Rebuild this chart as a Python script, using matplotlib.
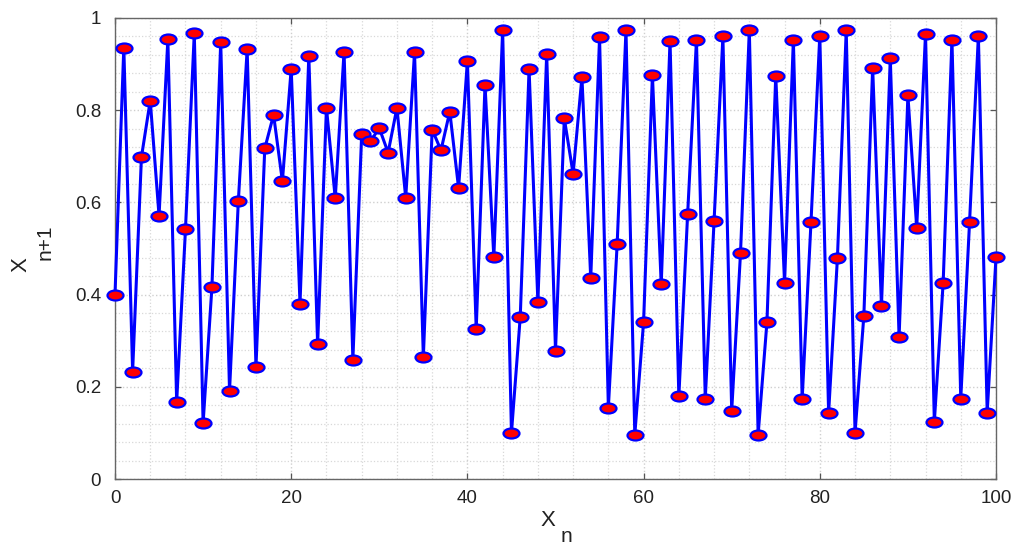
import matplotlib
matplotlib.use("Agg")
import matplotlib.pyplot as plt
from matplotlib.path import Path
from matplotlib.transforms import Affine2D
from matplotlib.ticker import MultipleLocator

plt.rcParams['font.family'] = ['Liberation Sans', 'DejaVu Sans']

# iterate index and value of each step
n = list(range(101))
x_vals = [0.400, 0.936, 0.233, 0.698, 0.821, 0.571, 0.954, 0.167, 0.542, 0.967,
          0.121, 0.416, 0.947, 0.191, 0.603, 0.932, 0.243, 0.717, 0.790, 0.646,
          0.890, 0.380, 0.918, 0.292, 0.805, 0.609, 0.927, 0.259, 0.748, 0.733,
          0.761, 0.708, 0.805, 0.610, 0.926, 0.264, 0.758, 0.713, 0.797, 0.631,
          0.907, 0.325, 0.855, 0.481, 0.973, 0.100, 0.352, 0.889, 0.384, 0.922,
          0.278, 0.782, 0.662, 0.872, 0.435, 0.958, 0.155, 0.510, 0.974, 0.096,
          0.341, 0.876, 0.422, 0.951, 0.179, 0.575, 0.952, 0.174, 0.560, 0.960,
          0.148, 0.490, 0.974, 0.096, 0.340, 0.875, 0.425, 0.953, 0.174, 0.557,
          0.962, 0.143, 0.479, 0.973, 0.100, 0.354, 0.892, 0.375, 0.913, 0.308,
          0.832, 0.545, 0.966, 0.124, 0.425, 0.953, 0.174, 0.558, 0.961, 0.144,
          0.481]

x_ticks = [0, 20, 40, 60, 80, 100]
y_ticks = [0, 0.2, 0.4, 0.6, 0.8, 1]
y_tick_labels = ['0', '0.2', '0.4', '0.6', '0.8', '1']

fig = plt.figure(figsize=(10.21, 5.46), dpi=100)
ax = fig.add_axes([115 / 1021, 67 / 546, 881 / 1021, 461 / 546])

# wide ellipse marker
ellipse = Path.unit_circle().transformed(Affine2D().scale(1.6, 1.0))
ax.plot(n, x_vals, color=(0, 0, 1), lw=2.2, marker=ellipse, markersize=11.5,
        markerfacecolor='red', markeredgecolor=(0, 0, 1), markeredgewidth=1.6,
        zorder=3, clip_on=False)

ax.set_xlim(0, 100)
ax.set_ylim(0, 1)
ax.set_xticks(x_ticks)
ax.set_yticks(y_ticks)
ax.set_yticklabels(y_tick_labels)
ax.xaxis.set_minor_locator(MultipleLocator(4))
ax.yaxis.set_minor_locator(MultipleLocator(0.04))

ax.grid(True, which='major', color='#cfcfcf', linestyle=':', linewidth=1.0)
ax.grid(True, which='minor', color='#d8d8d8', linestyle=':', linewidth=0.9)
ax.set_axisbelow(True)

ax.tick_params(which='major', direction='in', top=True, right=True,
               length=4.5, width=0.9, color='#555555', labelsize=13.5,
               labelcolor='#222222')
ax.tick_params(axis='x', which='major', pad=8)
ax.tick_params(axis='y', which='major', pad=10)
ax.tick_params(which='minor', length=0)
for sp in ax.spines.values():
    sp.set_color('#666666')
    sp.set_linewidth(1.0)

# axis labels drawn as letter plus lowered subscript
fig.text(548 / 1021, 1 - 521 / 546, 'X', fontsize=16, ha='center', va='center',
         color='#222222')
fig.text(566 / 1021, 1 - 537 / 546, 'n', fontsize=15, ha='center', va='center',
         color='#222222')
fig.text(21 / 1021, 1 - 265 / 546, 'X', fontsize=16, ha='center', va='center',
         rotation=90, color='#222222')
fig.text(45 / 1021, 1 - 242 / 546, 'n+1', fontsize=15, ha='center', va='center',
         rotation=90, color='#222222')

fig.savefig('out.png', dpi=100)
